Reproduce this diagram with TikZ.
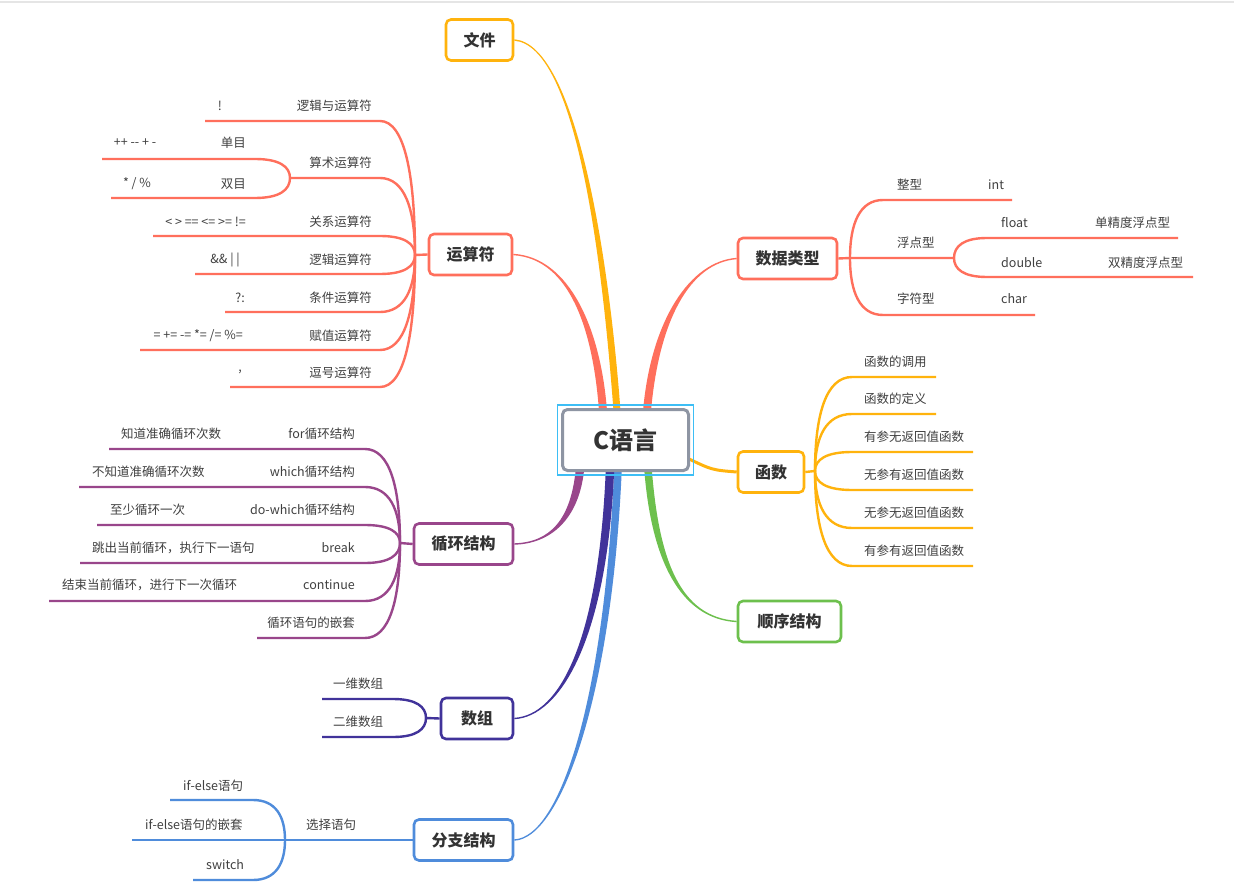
\documentclass[tikz,border=0pt]{standalone}
\usepackage{fontspec}
\setmainfont{Noto Sans CJK SC}
\usetikzlibrary{calc,backgrounds}
\definecolor{sal}{HTML}{FF6F5C}
\definecolor{org}{HTML}{FFB30D}
\definecolor{grn}{HTML}{6DC04D}
\definecolor{pur}{HTML}{99468B}
\definecolor{ind}{HTML}{41339A}
\definecolor{blu}{HTML}{4F8CDB}
\definecolor{cgray}{HTML}{8E95A3}
\definecolor{cblue}{HTML}{3DBEF5}
\definecolor{txt}{HTML}{333333}
\definecolor{ltxt}{HTML}{404040}
% sub-branch: color, trunk x, trunk y, curve x, y, far x
\newcommand\bl[6]{\draw[sub=#1] (#6,#5) -- (#4,#5) .. controls ({#4+0.7*(#2-#4)},#5) and (#2,{#5+0.4*(#3-#5)}) .. (#2,#3);}
% tapered main branch: color, start, c1x, c1y, c2x, c2y, end anchor, sign, half width
\newcommand\taper[9]{\fill[#1] ($(#2)+(-#9,0)$) .. controls ({#3-#9},#4) and (#5,{#6+(#8)*0.8}) .. ($(#7)+(0,{(#8)*0.7})$) -- ($(#7)+(0,{-(#8)*0.7})$) .. controls (#5,{#6-(#8)*0.8}) and ({#3+#9},#4) .. ($(#2)+(#9,0)$) -- cycle;}
\begin{document}
\begin{tikzpicture}[x=1pt,y=-1pt,
  mbox/.style={draw=#1, line width=2.6pt, rounded corners=5pt, fill=white, minimum height=41pt, inner sep=0pt, font=\fontsize{16}{18}\selectfont\bfseries, text=txt},
  sub/.style={draw=#1, line width=2.4pt},
  lab/.style={inner sep=0pt, font=\fontsize{12.5}{14}\selectfont, text=ltxt}]
\useasboundingbox (0,0) rectangle (1234,893);
% center
\node[draw=cgray, line width=3pt, rounded corners=5pt, fill=white, minimum width=126pt, minimum height=61pt, font=\fontsize{24}{28}\selectfont\bfseries, text=txt] (c) at (625.5,440) {C语言};
\node[draw=cblue, line width=1.2pt, minimum width=136pt, minimum height=70pt, inner sep=0pt] (cf) at (c) {};
% main nodes
\node[mbox=org, minimum width=67pt] (wj) at (479.5,40) {文件};
\node[mbox=sal, minimum width=83pt] (ysf) at (470.5,254.5) {运算符};
\node[mbox=sal, minimum width=99pt] (sjlx) at (787.5,258.5) {数据类型};
\node[mbox=org, minimum width=66pt] (hs) at (771,472) {函数};
\node[mbox=grn, minimum width=103pt] (sx) at (789.5,621.5) {顺序结构};
\node[mbox=pur, minimum width=99pt] (xh) at (463.5,544) {循环结构};
\node[mbox=ind, minimum width=72pt] (sz) at (477,718.5) {数组};
\node[mbox=blu, minimum width=99pt] (fz) at (463.5,840) {分支结构};
% start coordinates on the center node
\coordinate (wjS) at ($(c.north)+(-8.5,3)$);
\coordinate (ysfS) at ($(c.north)+(-22.5,3)$);
\coordinate (sjS) at ($(c.north)+(21.5,3)$);
\coordinate (xhS) at ($(c.south)+(-45.5,-3)$);
\coordinate (szS) at ($(c.south)+(-15.5,-3)$);
\coordinate (fzS) at ($(c.south)+(-7.5,-3)$);
\coordinate (sxS) at ($(c.south)+(22.5,-3)$);
\begin{pgfonlayer}{background}
\fill[white] (0,0) rectangle (1234,893);
\draw[black!10, line width=1.5pt] (0,2) -- (1234,2);
\taper{org}{wjS}{605}{250}{575}{45}{wj.east}{1}{3.5}
\taper{sal}{ysfS}{597}{330}{570}{258}{ysf.east}{1}{4}
\taper{sal}{sjS}{655}{320}{690}{262}{sjlx.west}{-1}{4}
\taper{grn}{sxS}{655}{560}{680}{618}{sx.west}{1}{3.8}
\taper{pur}{xhS}{575}{520}{550}{543}{xh.east}{-1}{4.2}
\taper{blu}{fzS}{608}{700}{560}{838}{fz.east}{-1}{3.8}
\taper{ind}{szS}{603}{640}{560}{716}{sz.east}{-1}{4.2}
\draw[org, line width=3pt] ($(c.east)+(-3,18)$) .. controls (712,470) .. (hs.west);
\end{pgfonlayer}
% ---------- 运算符
\coordinate (ysfT) at (415,255);
\draw[sub=sal] (ysf.west) -- (ysfT);
\bl{sal}{415}{255}{380}{121}{205}
\bl{sal}{415}{255}{380}{178}{290}
\bl{sal}{290}{178}{255}{159}{102}
\bl{sal}{290}{178}{255}{198}{111}
\bl{sal}{415}{255}{380}{236}{153}
\bl{sal}{415}{255}{380}{274}{195}
\bl{sal}{415}{255}{380}{312}{225}
\bl{sal}{415}{255}{380}{350}{140}
\bl{sal}{415}{255}{380}{387}{230}
\node[lab, anchor=east] (l1) at (372,106) {逻辑与运算符};
\node[lab] (l1a) at (220,106) {!};
\node[lab, anchor=east] (l2) at (372,163) {算术运算符};
\node[lab, anchor=east] (l2a) at (246,143) {单目};
\node[lab] (l2b) at (135,143) {++ -{}- + -};
\node[lab, anchor=east] (l2c) at (246,184) {双目};
\node[lab] (l2d) at (137,184) {* / \%};
\node[lab, anchor=east] (l3) at (372,222) {关系运算符};
\node[lab, anchor=east] (l3a) at (246,222) {< > == <= >= !=};
\node[lab, anchor=east] (l4) at (372,260) {逻辑运算符};
\node[lab, anchor=east] (l4a) at (240,260) {\&\& | |};
\node[lab, anchor=east] (l5) at (372,298) {条件运算符};
\node[lab, anchor=east] (l5a) at (245,298) {?:};
\node[lab, anchor=east] (l6) at (372,336) {赋值运算符};
\node[lab, anchor=east] (l6a) at (243,336) {= += -= *= /= \%=};
\node[lab, anchor=east] (l7) at (372,373) {逗号运算符};
\node[lab, anchor=east] (l7a) at (242,372) {,};
% ---------- 数据类型
\coordinate (sjT) at (850,258);
\coordinate (sjF) at (954,258);
\draw[sub=sal] (sjlx.east) -- (sjT) -- (sjF);
\bl{sal}{850}{258}{883}{200}{1012}
\bl{sal}{850}{258}{883}{315}{1035}
\bl{sal}{954}{258}{987}{238}{1178}
\bl{sal}{954}{258}{987}{277}{1193}
\node[lab, anchor=west] (d1) at (897,185) {整型};
\node[lab, anchor=west] (d1a) at (988,185) {int};
\node[lab, anchor=west] (d2) at (897,243) {浮点型};
\node[lab, anchor=west] (d2a) at (1001,223) {float};
\node[lab, anchor=west] (d2b) at (1095,223) {单精度浮点型};
\node[lab, anchor=west] (d2c) at (1001,263) {double};
\node[lab, anchor=west] (d2d) at (1108,263) {双精度浮点型};
\node[lab, anchor=west] (d3) at (897,299) {字符型};
\node[lab, anchor=west] (d3a) at (1001,299) {char};
% ---------- 函数
\coordinate (hsT) at (815,471);
\draw[sub=org] (hs.east) -- (hsT);
\bl{org}{815}{471}{852}{377}{936}
\bl{org}{815}{471}{852}{414}{936}
\bl{org}{815}{471}{852}{452}{973}
\bl{org}{815}{471}{852}{490}{973}
\bl{org}{815}{471}{852}{528}{973}
\bl{org}{815}{471}{852}{566}{973}
\node[lab, anchor=west] (h1) at (864,362) {函数的调用};
\node[lab, anchor=west] (h2) at (864,399) {函数的定义};
\node[lab, anchor=west] (h3) at (864,437) {有参无返回值函数};
\node[lab, anchor=west] (h4) at (864,475) {无参有返回值函数};
\node[lab, anchor=west] (h5) at (864,513) {无参无返回值函数};
\node[lab, anchor=west] (h6) at (864,551) {有参有返回值函数};
% ---------- 循环结构
\coordinate (xhT) at (400,543);
\draw[sub=pur] (xh.west) -- (xhT);
\bl{pur}{400}{543}{365}{449}{109}
\bl{pur}{400}{543}{365}{487}{79}
\bl{pur}{400}{543}{365}{525}{97}
\bl{pur}{400}{543}{365}{563}{80}
\bl{pur}{400}{543}{365}{601}{49}
\bl{pur}{400}{543}{365}{638}{257}
\node[lab, anchor=east] (x1) at (355,434) {for循环结构};
\node[lab, anchor=east] (x2) at (355,472) {which循环结构};
\node[lab, anchor=east] (x3) at (355,510) {do-which循环结构};
\node[lab, anchor=east] (x4) at (355,548) {break};
\node[lab, anchor=east] (x5) at (355,585) {continue};
\node[lab, anchor=east] (x6) at (355,623) {循环语句的嵌套};
\node[lab, anchor=west] (x1a) at (121,434) {知道准确循环次数};
\node[lab, anchor=west] (x2a) at (92,472) {不知道准确循环次数};
\node[lab, anchor=west] (x3a) at (110,510) {至少循环一次};
\node[lab, anchor=west] (x4a) at (92,548) {跳出当前循环，执行下一语句};
\node[lab, anchor=west] (x5a) at (62,585) {结束当前循环，进行下一次循环};
% ---------- 数组
\coordinate (szT) at (426,718);
\draw[sub=ind] (sz.west) -- (szT);
\bl{ind}{426}{718}{393}{699}{322}
\bl{ind}{426}{718}{393}{737}{322}
\node[lab, anchor=west] (s1) at (333,684) {一维数组};
\node[lab, anchor=west] (s2) at (333,722) {二维数组};
% ---------- 分支结构
\coordinate (fzT) at (285,840);
\coordinate (fzE) at (132,840);
\draw[sub=blu] (fz.west) -- (fzT) -- (fzE);
\bl{blu}{285}{840}{253}{800}{170}
\bl{blu}{285}{840}{253}{880}{193}
\node[lab, anchor=west] (f1) at (306,825) {选择语句};
\node[lab, anchor=west] (f2) at (183,786) {if-else语句};
\node[lab, anchor=west] (f3) at (145,825) {if-else语句的嵌套};
\node[lab, anchor=west] (f4) at (206,865) {switch};
\end{tikzpicture}
\end{document}
